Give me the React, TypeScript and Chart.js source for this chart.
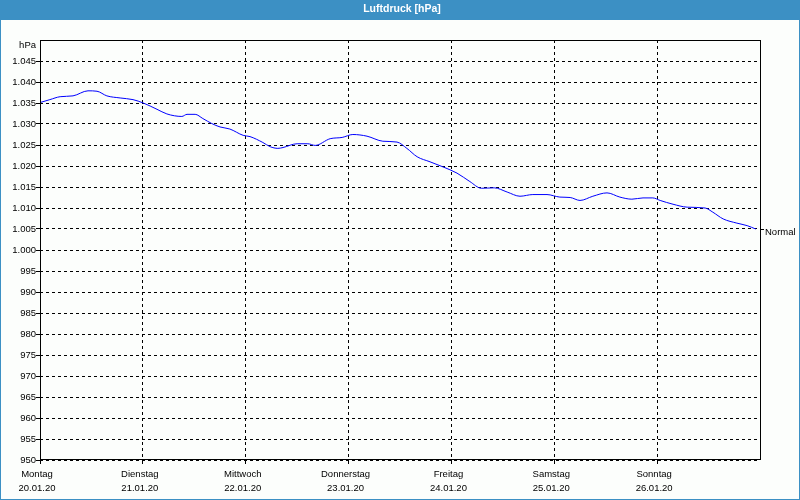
import React, { useEffect, useRef } from "react";
import { Chart, registerables } from "chart.js";

Chart.register(...registerables);

const chartTitle = "Luftdruck [hPa]";
const unitLabel = "hPa";
const seriesLabel = "Normal";
const dayNames = ["Montag", "Dienstag", "Mittwoch", "Donnerstag", "Freitag", "Samstag", "Sonntag"];
const dayDates = ["20.01.20", "21.01.20", "22.01.20", "23.01.20", "24.01.20", "25.01.20", "26.01.20"];

// hours since Monday 00:00
const hours = [
  0, 2.3, 4.7, 7.7, 11.2, 13.3, 15.6, 18.7, 21.7, 24.1, 27.3, 29.6, 33.1, 34.3, 36.2, 38.0, 40.1, 42.0,
  44.3, 47.4, 49, 52, 53.7, 55.5, 56.7, 60, 62.5, 64.2, 67.7, 70.5, 73, 76.3, 80, 83.3, 85.6, 88, 91,
  94, 97.3, 100.3, 103, 106, 109, 112, 115, 118.3, 121.3, 123.7, 126, 129, 132.3, 135.3, 138.1, 140.7,
  143, 144.7, 147.7, 151, 155.2, 157, 159.4, 162.6, 165, 167,
];
const pressure = [
  1035.1, 1035.8, 1036.5, 1036.7, 1037.9, 1037.8, 1036.7, 1036.2, 1035.8, 1035.0, 1033.5, 1032.4, 1031.8,
  1032.3, 1032.3, 1031.3, 1030.1, 1029.3, 1028.8, 1027.3, 1027.0, 1025.6, 1024.6, 1024.2, 1024.4, 1025.3,
  1025.3, 1024.9, 1026.5, 1026.8, 1027.5, 1027.1, 1025.9, 1025.7, 1024.2, 1022.2, 1021.0, 1019.8, 1018.3,
  1016.3, 1014.7, 1014.8, 1013.8, 1012.8, 1013.2, 1013.2, 1012.6, 1012.5, 1011.8, 1012.8, 1013.6, 1012.6,
  1012.1, 1012.4, 1012.4, 1011.8, 1010.9, 1010.2, 1010.0, 1009.0, 1007.4, 1006.4, 1005.8, 1005.0,
];

const yMin = 950;
const yMax = 1050;
const yStep = 5;
const xMax = 168;
const xStep = 24;

const FONT = '"Liberation Sans", Arial, sans-serif';
const BLUE = "#3c90c4";

function fmtPressure(v: number): string {
  if (v >= 1000) {
    return `${Math.floor(v / 1000)}.${String(Math.round(v % 1000)).padStart(3, "0")}`;
  }
  return String(v);
}

const framePlugin = {
  id: "framePlugin",
  beforeDraw(chart: any) {
    const { ctx, width, height } = chart;
    ctx.save();
    ctx.fillStyle = "#fcfefc";
    ctx.fillRect(0, 0, width, height);
    ctx.fillStyle = BLUE;
    ctx.fillRect(0, 0, width, 20);
    ctx.strokeStyle = BLUE;
    ctx.lineWidth = 1;
    ctx.strokeRect(0.5, 0.5, width - 1, height - 1);
    ctx.fillStyle = "#ffffff";
    ctx.font = `bold 10.5px ${FONT}`;
    ctx.textAlign = "center";
    ctx.textBaseline = "middle";
    ctx.fillText(chartTitle, width / 2 + 2, 9);
    ctx.restore();
  },
  afterDraw(chart: any) {
    const { ctx, chartArea } = chart;
    const { left, right, top, bottom } = chartArea;
    ctx.save();
    ctx.setLineDash([]);
    ctx.strokeStyle = "#000000";
    ctx.lineWidth = 1;
    ctx.strokeRect(Math.round(left) + 0.5, Math.round(top) + 0.5, Math.round(right - left), Math.round(bottom - top) - 1);
    // unit label
    ctx.fillStyle = "#000000";
    ctx.font = `9.5px ${FONT}`;
    ctx.textAlign = "right";
    ctx.textBaseline = "middle";
    ctx.fillText(unitLabel, left - 4, top + 5);
    // series end label
    const yScale = chart.scales.y;
    const last = pressure[pressure.length - 1];
    const py = Math.round(yScale.getPixelForValue(last)) + 0.5;
    ctx.beginPath();
    ctx.moveTo(right, py);
    ctx.lineTo(right + 4, py);
    ctx.stroke();
    ctx.textAlign = "left";
    ctx.fillText(seriesLabel, right + 5, py + 2.5);
    ctx.restore();
  },
};

export default function App() {
  const ref = useRef<HTMLCanvasElement | null>(null);
  useEffect(() => {
    document.body.style.margin = "0";
    const canvas = ref.current;
    if (!canvas) return;
    const points = hours.map((h, i) => ({ x: h, y: pressure[i] }));
    const chart = new Chart(canvas, {
      type: "line",
      data: {
        datasets: [
          {
            label: seriesLabel,
            data: points,
            borderColor: "#0000ff",
            borderWidth: 1,
            pointRadius: 0,
            fill: false,
            cubicInterpolationMode: "monotone",
          },
        ],
      },
      options: {
        animation: false,
        responsive: false,
        devicePixelRatio: 1,
        layout: { padding: { left: 0, right: 40, top: 40, bottom: 0 } },
        plugins: { legend: { display: false }, title: { display: false }, tooltip: { enabled: false } },
        scales: {
          x: {
            type: "linear",
            min: 0,
            max: xMax,
            afterFit: (s: any) => {
              s.height = 40;
            },
            afterBuildTicks: (s: any) => {
              const t = [];
              for (let v = 0; v < xMax; v += xStep) t.push({ value: v });
              s.ticks = t;
            },
            ticks: {
              color: "#000000",
              font: { family: FONT, size: 9.5, lineHeight: 1.47 },
              padding: 3,
              labelOffset: -3,
              maxRotation: 0,
              autoSkip: false,
              callback: (v: any) => {
                const i = Math.round(Number(v) / xStep);
                if (i >= dayNames.length) return "";
                return [dayNames[i], dayDates[i]];
              },
            },
            grid: { color: "#000000", lineWidth: 1, tickLength: 4, drawTicks: true },
            border: { display: false, dash: [3, 3] },
          },
          y: {
            type: "linear",
            min: yMin,
            max: yMax,
            afterFit: (s: any) => {
              s.width = 40;
            },
            afterBuildTicks: (s: any) => {
              const t = [];
              for (let v = yMin; v < yMax; v += yStep) t.push({ value: v });
              s.ticks = t;
            },
            ticks: {
              color: "#000000",
              font: { family: FONT, size: 9.5 },
              padding: 0,
              autoSkip: false,
              callback: (v: any) => fmtPressure(Number(v)),
            },
            grid: { color: "#000000", lineWidth: 1, tickLength: 4, drawTicks: true },
            border: { display: false, dash: [3, 3] },
          },
        },
      },
      plugins: [framePlugin],
    } as any);
    return () => chart.destroy();
  }, []);
  return (
    <div style={{ position: "absolute", left: 0, top: 0, width: 800, height: 500 }}>
      <canvas ref={ref} width={800} height={500} style={{ display: "block" }} />
    </div>
  );
}
